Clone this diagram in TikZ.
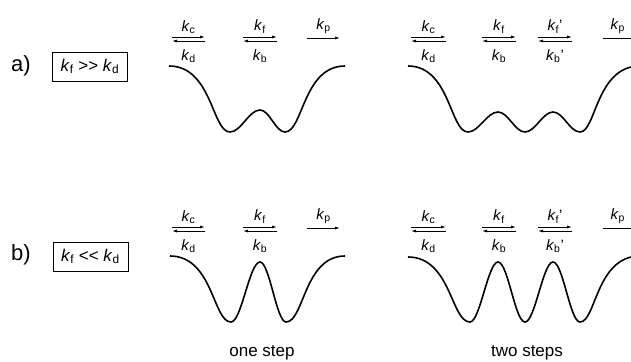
\documentclass[tikz,border=0pt]{standalone}
\usepackage{fontspec}
\setmainfont{Liberation Sans}
\usetikzlibrary{arrows.meta,positioning}
\newcommand{\kr}[1]{\textit{k}\textsubscript{#1}}

\begin{document}
\begin{tikzpicture}[
    x=1pt, y=-1pt,
    font=\fontsize{15}{17}\selectfont,
    rate/.style={inner sep=0pt},
    tag/.style={inner sep=0pt, font=\fontsize{22}{24}\selectfont},
    cond/.style={
        draw,
        line width=0.9pt,
        minimum width=75pt,
        minimum height=29pt,
        inner sep=0pt,
        font=\fontsize{17}{19}\selectfont
    },
    caption/.style={inner sep=0pt, anchor=base, font=\fontsize{17}{19}\selectfont},
    fwd/.style={-{Latex[length=5pt,width=3pt]}, line width=0.8pt},
    curve/.style={line width=1.6pt}
]
\clip (0,0) rectangle (631,361);

% row a
\node[tag] (taga) at (21,66) {a)};
\node[cond] (conda) at (90,66.5) {\kr{f} >\kern0pt> \kr{d}};

\coordinate (acl) at (172,39); \coordinate (acr) at (205,39);
\coordinate (afl) at (243,39); \coordinate (afr) at (277,39);
\coordinate (apl) at (307,38); \coordinate (apr) at (340,38);
\draw[fwd] ([yshift=2pt]acl) -- ([yshift=2pt]acr) node[rate, midway, above=3pt] (akc) {\kr{c}};
\draw[fwd] ([yshift=-2pt]acr) -- ([yshift=-2pt]acl) node[rate, midway, below=8pt] (akd) {\kr{d}};
\draw[fwd] ([yshift=2pt]afl) -- ([yshift=2pt]afr) node[rate, midway, above=3pt] (akf) {\kr{f}};
\draw[fwd] ([yshift=-2pt]afr) -- ([yshift=-2pt]afl) node[rate, midway, below=8pt] (akb) {\kr{b}};
\draw[fwd] (apl) -- (apr) node[rate, midway, above=4pt] (akp) {\kr{p}};

\coordinate (bcl) at (411,39); \coordinate (bcr) at (446,39);
\coordinate (bfl) at (482,39); \coordinate (bfr) at (516,39);
\coordinate (bgl) at (538,39); \coordinate (bgr) at (572,39);
\coordinate (bpl) at (603,38); \coordinate (bpr) at (640,38);
\draw[fwd] ([yshift=2pt]bcl) -- ([yshift=2pt]bcr) node[rate, midway, above=3pt] (bkc) {\kr{c}};
\draw[fwd] ([yshift=-2pt]bcr) -- ([yshift=-2pt]bcl) node[rate, midway, below=8pt] (bkd) {\kr{d}};
\draw[fwd] ([yshift=2pt]bfl) -- ([yshift=2pt]bfr) node[rate, midway, above=3pt] (bkf) {\kr{f}};
\draw[fwd] ([yshift=-2pt]bfr) -- ([yshift=-2pt]bfl) node[rate, midway, below=8pt] (bkb) {\kr{b}};
\draw[fwd] ([yshift=2pt]bgl) -- ([yshift=2pt]bgr) node[rate, midway, above=3pt] (bkg) {\kr{f}'};
\draw[fwd] ([yshift=-2pt]bgr) -- ([yshift=-2pt]bgl) node[rate, midway, below=8pt] (bkh) {\kr{b}'};
\draw[fwd] (bpl) -- (bpr) node[rate, pos=0.4, above=4pt] (bkp) {\kr{p}};

% energy profiles, row a
\draw[curve] (169,66) .. controls (212,66) and (212,132) .. (230,132)
    .. controls (241,132) and (249,110) .. (260,110)
    .. controls (269.5,110) and (275.5,132) .. (285,132)
    .. controls (303,132) and (303,66) .. (345,66);
\draw[curve] (408,66) .. controls (450,66) and (450,132) .. (468,132)
    .. controls (479,132) and (487,112) .. (498,112)
    .. controls (508,112) and (515,132) .. (525,132)
    .. controls (535,132) and (543,112) .. (553,112)
    .. controls (563,112) and (570,132) .. (580,132)
    .. controls (596,132) and (596,66) .. (640,66);

% row b
\node[tag] (tagb) at (21,255) {b)};
\node[cond] (condb) at (90.5,256.5) {\kr{f} <\kern0pt< \kr{d}};

\coordinate (ccl) at (172,229); \coordinate (ccr) at (205,229);
\coordinate (cfl) at (243,229); \coordinate (cfr) at (277,229);
\coordinate (cpl) at (307,228); \coordinate (cpr) at (340,228);
\draw[fwd] ([yshift=2pt]ccl) -- ([yshift=2pt]ccr) node[rate, midway, above=3pt] (ckc) {\kr{c}};
\draw[fwd] ([yshift=-2pt]ccr) -- ([yshift=-2pt]ccl) node[rate, midway, below=8pt] (ckd) {\kr{d}};
\draw[fwd] ([yshift=2pt]cfl) -- ([yshift=2pt]cfr) node[rate, midway, above=3pt] (ckf) {\kr{f}};
\draw[fwd] ([yshift=-2pt]cfr) -- ([yshift=-2pt]cfl) node[rate, midway, below=8pt] (ckb) {\kr{b}};
\draw[fwd] (cpl) -- (cpr) node[rate, midway, above=4pt] (ckp) {\kr{p}};

\coordinate (dcl) at (411,229); \coordinate (dcr) at (446,229);
\coordinate (dfl) at (482,229); \coordinate (dfr) at (516,229);
\coordinate (dgl) at (538,229); \coordinate (dgr) at (572,229);
\coordinate (dpl) at (603,228); \coordinate (dpr) at (640,228);
\draw[fwd] ([yshift=2pt]dcl) -- ([yshift=2pt]dcr) node[rate, midway, above=3pt] (dkc) {\kr{c}};
\draw[fwd] ([yshift=-2pt]dcr) -- ([yshift=-2pt]dcl) node[rate, midway, below=8pt] (dkd) {\kr{d}};
\draw[fwd] ([yshift=2pt]dfl) -- ([yshift=2pt]dfr) node[rate, midway, above=3pt] (dkf) {\kr{f}};
\draw[fwd] ([yshift=-2pt]dfr) -- ([yshift=-2pt]dfl) node[rate, midway, below=8pt] (dkb) {\kr{b}};
\draw[fwd] ([yshift=2pt]dgl) -- ([yshift=2pt]dgr) node[rate, midway, above=3pt] (dkg) {\kr{f}'};
\draw[fwd] ([yshift=-2pt]dgr) -- ([yshift=-2pt]dgl) node[rate, midway, below=8pt] (dkh) {\kr{b}'};
\draw[fwd] (dpl) -- (dpr) node[rate, pos=0.4, above=4pt] (dkp) {\kr{p}};

% energy profiles, row b
\draw[curve] (170,256) .. controls (213,256) and (213,322) .. (231,322)
    .. controls (241.5,322) and (249.5,262) .. (260,262)
    .. controls (269.5,262) and (276.5,322) .. (286,322)
    .. controls (304,322) and (304,256) .. (345,256);
\draw[curve] (408,257) .. controls (451,257) and (451,322) .. (470,322)
    .. controls (480,322) and (488,262) .. (498,262)
    .. controls (508,262) and (515,322) .. (525,322)
    .. controls (535,322) and (543,262) .. (553,262)
    .. controls (563,262) and (570,322) .. (580,322)
    .. controls (596,322) and (596,256) .. (640,256);

\node[caption] (one) at (262,356) {one step};
\node[caption] (two) at (527,356) {two steps};
\end{tikzpicture}
\end{document}
